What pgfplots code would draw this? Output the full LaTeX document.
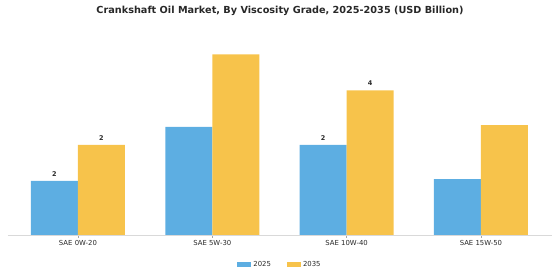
\documentclass[border=0pt]{standalone}
\usepackage{pgfplots}
\pgfplotsset{compat=1.18}
\usepackage{fontspec}
\setmainfont{DejaVu Sans}
\definecolor{cblue}{RGB}{93,174,226}
\definecolor{corange}{RGB}{247,195,75}
\definecolor{ctext}{RGB}{40,40,40}
\begin{document}
\begin{tikzpicture}[x=1pt,y=1pt]
\useasboundingbox (0,0) rectangle (560,280);
\node[font=\bfseries\fontsize{9.7}{11}\selectfont, text=ctext] at (280,269) {Crankshaft Oil Market, By Viscosity Grade, 2025-2035 (USD Billion)};
\begin{axis}[
  at={(8pt,45pt)}, anchor=south west,
  scale only axis, width=544pt, height=187.2pt,
  xmin=-0.521, xmax=3.529, ymin=0, ymax=5.2,
  ybar=0pt, bar width=47pt,
  xtick={0,1,2,3},
  xticklabels={SAE 0W-20, SAE 5W-30, SAE 10W-40, SAE 15W-50},
  ticklabel style={font=\fontsize{6.9}{8}\selectfont, text=ctext},
  xtick style={draw=gray!70, thin},
  major tick length=3pt,
  tick align=outside,
  xtick pos=bottom,
  ytick=\empty,
  axis y line=none,
  axis x line*=bottom,
  x axis line style={draw=gray!30, line width=0.8pt, -},
  xticklabel style={yshift=1pt},
  legend style={at={(0.5,-0.16)}, anchor=center, draw=none, legend columns=2,
    font=\fontsize{6.9}{8}\selectfont, text=ctext,
    /tikz/every even column/.append style={column sep=14pt}},
  legend image code/.code={\fill[#1] (0pt,-2.5pt) rectangle (14pt,2.5pt);},
  nodes near coords,
  point meta=explicit symbolic,
  every node near coord/.append style={font=\bfseries\fontsize{6.5}{7}\selectfont, text=ctext, yshift=1pt},
]
\addplot[fill=cblue, draw=none, bar shift=-23.5pt] coordinates {(0,1.5) [2] (1,3.0) [] (2,2.5) [2] (3,1.55) []};
\addplot[fill=corange, draw=none, bar shift=23.5pt] coordinates {(0,2.5) [2] (1,5.02) [] (2,4.02) [4] (3,3.05) []};
\legend{2025,2035}
\end{axis}
\end{tikzpicture}
\end{document}
